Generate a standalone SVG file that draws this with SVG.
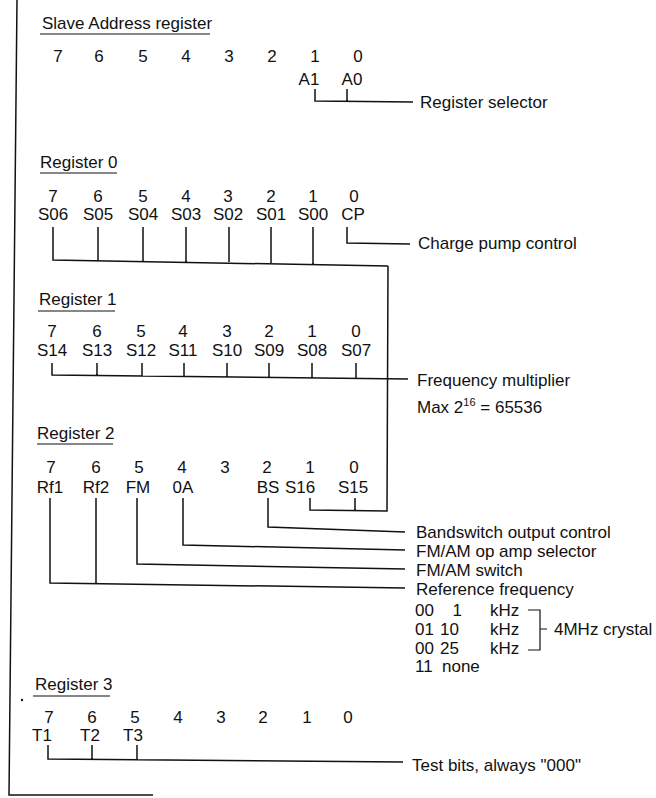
<svg xmlns="http://www.w3.org/2000/svg" width="656" height="798" viewBox="0 0 656 798">
<style>
text{font-family:"Liberation Sans",Arial,sans-serif;font-size:17px;fill:#111}
.c{text-anchor:middle}
.ln{fill:none;stroke:#111;stroke-width:1.5}
.ul{fill:none;stroke:#111;stroke-width:1.2}
</style>
<rect width="656" height="798" fill="#fff"/>
<g id="frame">
<path class="ln" d="M17,0 L9,795 L153,795"/>
<circle cx="22" cy="700" r="1.2" fill="#111"/>
</g>
<g id="slave">
<text x="42" y="29">Slave Address register</text>
<path class="ul" d="M40,34 H210"/>
<text class="c" x="58" y="62">7</text><text class="c" x="99" y="62">6</text><text class="c" x="143" y="62">5</text><text class="c" x="186" y="62">4</text><text class="c" x="229" y="62">3</text><text class="c" x="272" y="62">2</text><text class="c" x="315" y="62">1</text><text class="c" x="358" y="62">0</text>
<text class="c" x="309" y="85">A1</text><text class="c" x="352" y="85">A0</text>
<text x="420" y="108">Register selector</text>
</g>
<g id="reg0">
<text x="40" y="168">Register 0</text>
<path class="ul" d="M40,173 H117"/>
<text class="c" x="53" y="202">7</text><text class="c" x="98" y="202">6</text><text class="c" x="143" y="202">5</text><text class="c" x="186" y="202">4</text><text class="c" x="228" y="202">3</text><text class="c" x="271" y="202">2</text><text class="c" x="313" y="202">1</text><text class="c" x="354" y="202">0</text>
<text class="c" x="53" y="220">S06</text><text class="c" x="98" y="220">S05</text><text class="c" x="143" y="220">S04</text><text class="c" x="186" y="220">S03</text><text class="c" x="228" y="220">S02</text><text class="c" x="271" y="220">S01</text><text class="c" x="313" y="220">S00</text><text class="c" x="353" y="220">CP</text>
<text x="418" y="249">Charge pump control</text>
</g>
<g id="reg1">
<text x="39" y="305">Register 1</text>
<path class="ul" d="M38,311 H115"/>
<text class="c" x="52" y="337">7</text><text class="c" x="97" y="337">6</text><text class="c" x="141" y="337">5</text><text class="c" x="183" y="337">4</text><text class="c" x="227" y="337">3</text><text class="c" x="269" y="337">2</text><text class="c" x="312" y="337">1</text><text class="c" x="356" y="337">0</text>
<text class="c" x="52" y="356">S14</text><text class="c" x="97" y="356">S13</text><text class="c" x="141" y="356">S12</text><text class="c" x="183" y="356">S11</text><text class="c" x="227" y="356">S10</text><text class="c" x="269" y="356">S09</text><text class="c" x="312" y="356">S08</text><text class="c" x="356" y="356">S07</text>
<text x="417" y="386">Frequency multiplier</text>
<text x="417" y="413">Max 2<tspan font-size="11" dy="-7">16</tspan><tspan dy="7"> = 65536</tspan></text>
</g>
<g id="reg2">
<text x="37" y="439">Register 2</text>
<path class="ul" d="M37,444 H113"/>
<text class="c" x="51" y="473">7</text><text class="c" x="96" y="473">6</text><text class="c" x="139" y="473">5</text><text class="c" x="182" y="473">4</text><text class="c" x="225" y="473">3</text><text class="c" x="267" y="473">2</text><text class="c" x="310" y="473">1</text><text class="c" x="354" y="473">0</text>
<text class="c" x="50" y="493">Rf1</text><text class="c" x="96" y="493">Rf2</text><text class="c" x="138" y="493">FM</text><text class="c" x="183" y="493">0A</text><text class="c" x="268" y="493">BS</text><text class="c" x="300" y="493">S16</text><text class="c" x="353" y="493">S15</text>
<text x="416" y="538">Bandswitch output control</text>
<text x="416" y="557">FM/AM op amp selector</text>
<text x="416" y="576">FM/AM switch</text>
<text x="416" y="595">Reference frequency</text>
</g>
<g id="reftable">
<text x="415" y="616">00</text><text x="462" y="616" text-anchor="end">1</text><text x="490" y="616">kHz</text>
<text x="415" y="635">01</text><text x="440" y="635">10</text><text x="490" y="635">kHz</text>
<text x="415" y="654">00</text><text x="440" y="654">25</text><text x="490" y="654">kHz</text>
<text x="415" y="672">11</text><text x="442" y="672">none</text>
<path class="ul" d="M528,610 H540 V650 H528 M540,629 H547"/>
<text x="554" y="635">4MHz crystal</text>
</g>
<g id="reg3">
<text x="35" y="690">Register 3</text>
<path class="ul" d="M33,696 H110"/>
<text class="c" x="49" y="723">7</text><text class="c" x="92" y="723">6</text><text class="c" x="135" y="723">5</text><text class="c" x="178" y="723">4</text><text class="c" x="221" y="723">3</text><text class="c" x="263" y="723">2</text><text class="c" x="307" y="723">1</text><text class="c" x="348" y="723">0</text>
<text class="c" x="42" y="741">T1</text><text class="c" x="90" y="741">T2</text><text class="c" x="133" y="741">T3</text>
<text x="412" y="771">Test bits, always "000"</text>
</g>
<g id="connectors">
<path class="ln" d="M315,89 V101 L413,102 M347,89 V101"/>
<path class="ln" d="M53,227 V260 L388,266 M98,227 V261 M143,227 V261 M186,227 V262 M229,227 V262 M271,227 V263 M313,227 V264"/>
<path class="ln" d="M347,227 V243 L410,244"/>
<path class="ln" d="M388,266 L387,511 L310,510 V498 M355,498 V510"/>
<path class="ln" d="M52,363 V375 L408,379 M97,363 V376 M142,363 V376 M184,363 V377 M227,363 V377 M269,363 V378 M312,363 V378 M356,363 V379"/>
<path class="ln" d="M268,498 V527 L405,532"/>
<path class="ln" d="M183,498 V545 L405,550"/>
<path class="ln" d="M137,498 V564 L405,569"/>
<path class="ln" d="M50,498 V583 L405,588 M96,498 V584"/>
<path class="ln" d="M48,745 V759 L403,762 M92,745 V759 M137,745 V760"/>
</g>
</svg>
